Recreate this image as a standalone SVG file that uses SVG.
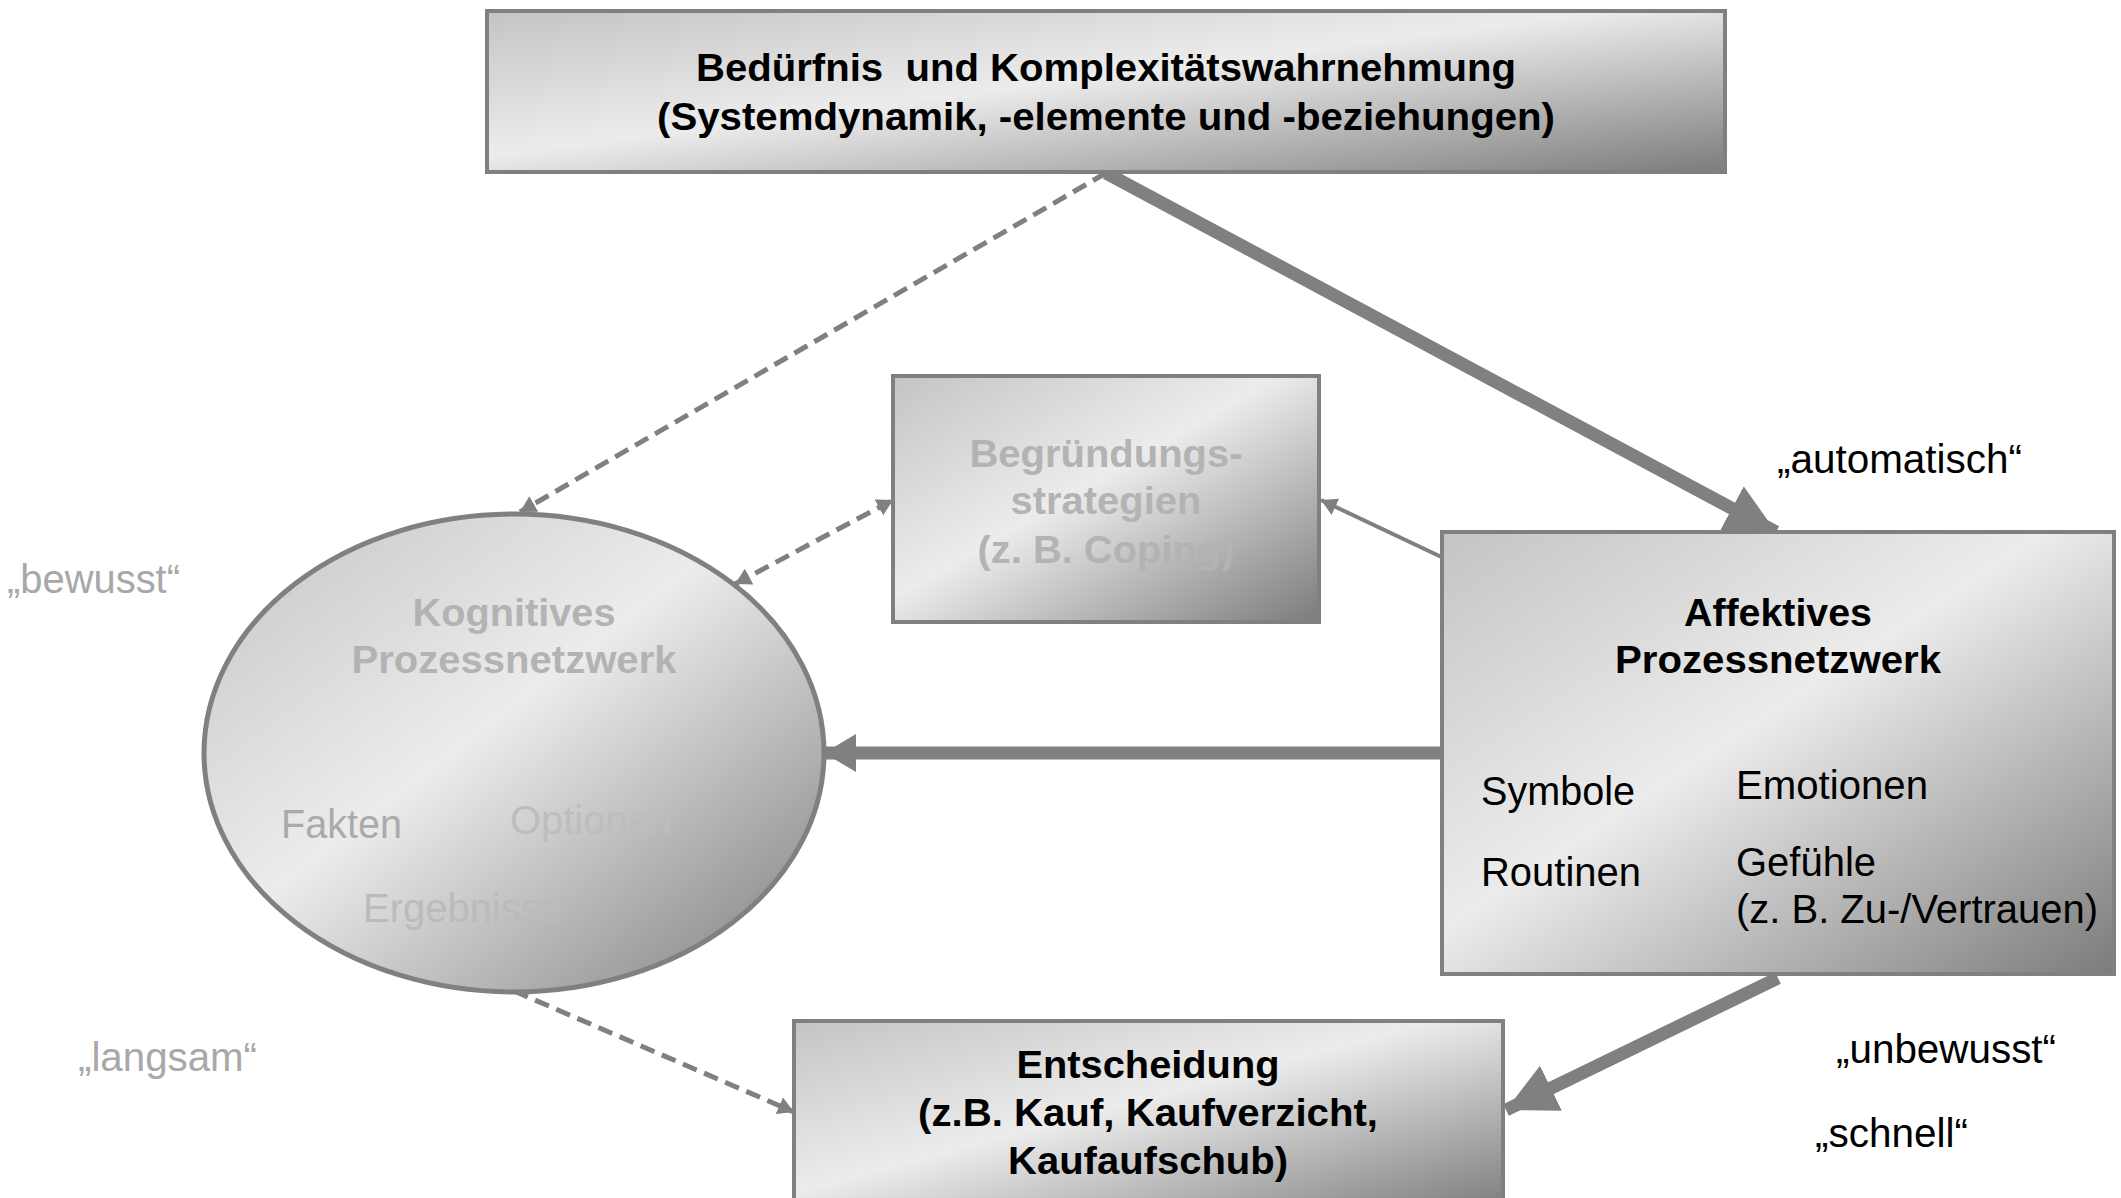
<svg xmlns="http://www.w3.org/2000/svg" width="2121" height="1198" viewBox="0 0 2121 1198">
<style>
.box{stroke:#808080;stroke-width:4;fill:url(#g)}
.b{font-family:"Liberation Sans",Arial,sans-serif;font-weight:bold;font-size:39px;text-anchor:middle;fill:#000}
.b.bg{fill:#b3b3b3}
.r{font-family:"Liberation Sans",Arial,sans-serif;font-size:40px;fill:#000}
.r.rg{fill:#a8a8a8}
.r.f1{fill:#aaaaaa}
.r.f2{fill:#bdbdbd}
.r.f3{fill:#bbbbbb}
.thick{stroke:#808080;stroke-width:13;fill:none}
.dash{stroke:#808080;stroke-width:5;fill:none;stroke-dasharray:15 8}
.thin{stroke:#808080;stroke-width:4;fill:none}
</style>
<defs>
<linearGradient id="g" x1="0" y1="0" x2="1" y2="1">
<stop offset="0" stop-color="#c4c4c4"/>
<stop offset="0.45" stop-color="#ececec"/>
<stop offset="1" stop-color="#7c7c7c"/>
</linearGradient>
<marker id="big" markerUnits="userSpaceOnUse" markerWidth="52" markerHeight="50" refX="50" refY="25" orient="auto">
<path d="M0,0 L50,25 L0,50 Z" fill="#808080"/>
</marker>
<marker id="mid" markerUnits="userSpaceOnUse" markerWidth="34" markerHeight="40" refX="32" refY="20" orient="auto">
<path d="M0,1 L32,20 L0,39 Z" fill="#808080"/>
</marker>
<marker id="sm" markerUnits="userSpaceOnUse" markerWidth="18" markerHeight="18" refX="16" refY="9" orient="auto-start-reverse">
<path d="M0,0 L16,9 L0,18 Z" fill="#808080"/>
</marker>
</defs>
<rect width="2121" height="1198" fill="#fff"/>

<g id="connectors">
<path class="dash" d="M1106,173 L520,512" marker-end="url(#sm)"/>
<path class="thick" d="M1106,173 L1776,532" marker-end="url(#big)"/>
<path class="dash" d="M735,584 L893,500" marker-start="url(#sm)" marker-end="url(#sm)"/>
<path class="thin" d="M1452,562 L1321,500" marker-end="url(#sm)"/>
<path class="thick" d="M1442,753 L824,753" marker-end="url(#mid)"/>
<path class="dash" d="M514,991 L794,1112" marker-end="url(#sm)"/>
<path class="thick" d="M1778,978 L1506,1110" marker-end="url(#big)"/>
</g>

<g id="node-top">
<rect class="box" x="487" y="11" width="1238" height="161"/>
<text class="b" x="1106" y="81" textLength="820" lengthAdjust="spacingAndGlyphs">Bedürfnis&#160; und Komplexitätswahrnehmung</text>
<text class="b" x="1106" y="130" textLength="898" lengthAdjust="spacingAndGlyphs">(Systemdynamik, -elemente und -beziehungen)</text>
</g>

<g id="node-begruendung">
<rect class="box" x="893" y="376" width="426" height="246"/>
<text class="b bg" x="1106" y="467" textLength="273" lengthAdjust="spacingAndGlyphs">Begründungs-</text>
<text class="b bg" x="1106" y="514" textLength="191" lengthAdjust="spacingAndGlyphs">strategien</text>
<text class="b bg" x="1106" y="563" textLength="257" lengthAdjust="spacingAndGlyphs">(z. B. Coping)</text>
</g>

<g id="node-kognitiv">
<ellipse cx="514" cy="753" rx="310" ry="239" stroke="#808080" stroke-width="5" fill="url(#g)"/>
<text class="b bg" x="514" y="626" textLength="203" lengthAdjust="spacingAndGlyphs">Kognitives</text>
<text class="b bg" x="514" y="673" textLength="325" lengthAdjust="spacingAndGlyphs">Prozessnetzwerk</text>
<text class="r f1" x="281" y="838" textLength="121" lengthAdjust="spacingAndGlyphs">Fakten</text>
<text class="r f2" x="510" y="834" textLength="162" lengthAdjust="spacingAndGlyphs">Optionen</text>
<text class="r f3" x="363" y="922" textLength="200" lengthAdjust="spacingAndGlyphs">Ergebnisse</text>
</g>

<g id="node-affektiv">
<rect class="box" x="1442" y="532" width="672" height="442"/>
<text class="b" x="1778" y="626" textLength="188" lengthAdjust="spacingAndGlyphs">Affektives</text>
<text class="b" x="1778" y="673" textLength="326" lengthAdjust="spacingAndGlyphs">Prozessnetzwerk</text>
<text class="r" x="1481" y="805" textLength="154" lengthAdjust="spacingAndGlyphs">Symbole</text>
<text class="r" x="1481" y="886" textLength="160" lengthAdjust="spacingAndGlyphs">Routinen</text>
<text class="r" x="1736" y="799" textLength="192" lengthAdjust="spacingAndGlyphs">Emotionen</text>
<text class="r" x="1736" y="876" textLength="140" lengthAdjust="spacingAndGlyphs">Gefühle</text>
<text class="r" x="1736" y="923" textLength="362" lengthAdjust="spacingAndGlyphs">(z. B. Zu-/Vertrauen)</text>
</g>

<g id="node-entscheidung">
<rect class="box" x="794" y="1021" width="709" height="190"/>
<text class="b" x="1148" y="1078" textLength="263" lengthAdjust="spacingAndGlyphs">Entscheidung</text>
<text class="b" x="1148" y="1126" textLength="460" lengthAdjust="spacingAndGlyphs">(z.B. Kauf, Kaufverzicht,</text>
<text class="b" x="1148" y="1174" textLength="280" lengthAdjust="spacingAndGlyphs">Kaufaufschub)</text>
</g>

<g id="labels">
<text class="r" x="1777" y="473" textLength="245" lengthAdjust="spacingAndGlyphs">„automatisch“</text>
<text class="r rg" x="7" y="593" textLength="173" lengthAdjust="spacingAndGlyphs">„bewusst“</text>
<text class="r rg" x="78" y="1071" textLength="179" lengthAdjust="spacingAndGlyphs">„langsam“</text>
<text class="r" x="1836" y="1063" textLength="220" lengthAdjust="spacingAndGlyphs">„unbewusst“</text>
<text class="r" x="1815" y="1147" textLength="153" lengthAdjust="spacingAndGlyphs">„schnell“</text>
</g>
</svg>
